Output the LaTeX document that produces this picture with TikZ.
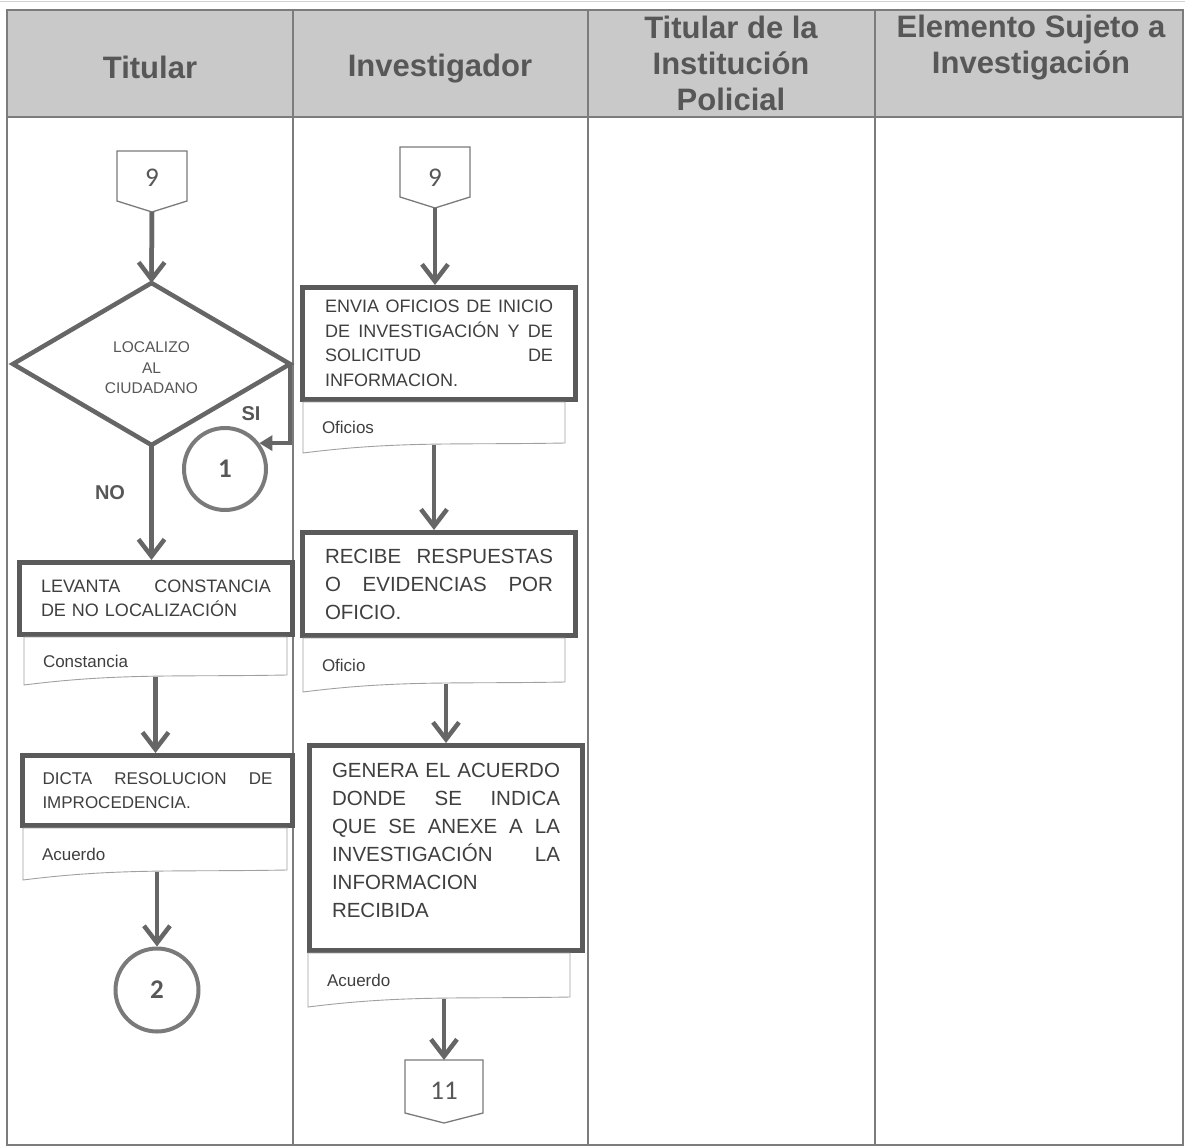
\documentclass[tikz,border=0pt]{standalone}
\usepackage{fontspec}
\setmainfont{Liberation Sans}
\newfontfamily\numfont{Carlito}
\usetikzlibrary{arrows.meta,calc}

\definecolor{lanegray}{HTML}{7C7C7C}
\definecolor{headfill}{HTML}{C9C9C9}
\definecolor{headtext}{HTML}{575757}
\definecolor{boxline}{HTML}{5A5A5A}
\definecolor{flowline}{HTML}{666666}
\definecolor{bodytext}{HTML}{3F3F3F}
\definecolor{docline}{HTML}{A0A0A0}
\definecolor{ringline}{HTML}{7A7A7A}

\newcommand\fsz[2]{\fontsize{#1}{#2}\selectfont}
% a fully justified line: word spaces stretch to the full line width
\newcommand\jline[1]{\makebox[\linewidth][s]{\spaceskip=0.278em plus 1fil\relax #1}}

\begin{document}
\begin{tikzpicture}[x=1pt,y=-1pt,
  lane/.style={draw=lanegray, line width=1.3pt},
  headlabel/.style={font=\fsz{31}{36}\bfseries, text=headtext, align=center, inner sep=0pt},
  taskbox/.style={draw=boxline, line width=5pt, fill=white, inner sep=0pt,
    align=left, text=bodytext},
  docbox/.style={inner xsep=19pt, inner ysep=0pt, outer sep=0pt, align=left,
    font=\fsz{17}{20}, text=bodytext},
  docshape/.style={draw=docline, line width=0.9pt, fill=white},
  offpage/.style={minimum width=70pt, minimum height=50pt, inner sep=0pt, outer sep=0pt,
    font=\numfont\fsz{27}{30}, text=headtext},
  pentline/.style={draw=ringline, line width=1.3pt, fill=white},
  onpage/.style={circle, draw=ringline, line width=4pt, minimum size=82pt, inner sep=0pt,
    font=\numfont\bfseries\fsz{27}{30}, text=headtext},
  flow/.style={draw=flowline, line width=4.5pt, shorten >=3pt,
    postaction={draw=flowline, shorten >=0pt, -{Straight Barb[length=17pt,width=26pt]}}},
  siflow/.style={draw=flowline, line width=4pt, -{Triangle[length=13pt,width=15pt]}},
  branch/.style={font=\fsz{20}{22}\bfseries, text=headtext, inner sep=0pt},
  decision/.style={minimum width=277pt, minimum height=162pt, inner sep=0pt, outer sep=0pt,
    align=center, font=\fsz{15.5}{20.5}, text=headtext},
  decline/.style={draw=flowline, line width=4.5pt, fill=white, line join=miter}
]
\useasboundingbox (0,0) rectangle (1185,1147);

% thin edge line along the top of the sheet
\draw[gray!35, line width=1pt] (0,1.5) -- (1185,1.5);

% swimlane table
\fill[headfill] (7,10) rectangle (1183,117);
\draw[lane] (7,10) rectangle (1183,1145);
\draw[lane] (7,117) -- (1183,117);
\foreach \x in {293,588,875} \draw[lane] (\x,10) -- (\x,1145);

\node[headlabel] (h1) at (150,67) {Titular};
\node[headlabel] (h2) at (440,69) {Investigador};
\node[headlabel] (h3) at (731,63) {Titular de la\\Institución\\Policial};
\node[headlabel] (h4) at (1031,48) {Elemento Sujeto a\\Investigación};

% ---------- Titular lane ----------
\node[offpage] (c9a) at (152,176) {};
\coordinate (c9a tip) at (152,212);
\draw[pentline] (c9a.north west) -- (c9a.north east) -- (c9a.south east) -- (c9a tip) -- (c9a.south west) -- cycle;
\node[offpage, yshift=-2pt] at (c9a) {9};

\node[decision] (dec) at (151.5,364) {};
\draw[decline] (dec.north) -- (dec.east) -- (dec.south) -- (dec.west) -- cycle;
\node[decision, yshift=-4pt] at (dec) {LOCALIZO\\AL\\CIUDADANO};

\node[onpage] (c1) at (225,469) {1};

\node[taskbox, minimum width=273pt, minimum height=72pt, text width=230pt,
  font=\fsz{18}{24.5}] (boxA) at (156,598.5)
  {\jline{LEVANTA CONSTANCIA}\\DE NO LOCALIZACIÓN};

\node[docbox, text width=225pt, minimum height=48pt] (docA) at (155.5,661) {};
\draw[docshape] (docA.north west) -- (docA.north east) -- ($(docA.south east)+(0,-10)$)
  .. controls +(-110,2) and +(95,-12) .. (docA.south west) -- cycle;
\node[docbox, text width=225pt, minimum height=48pt] at (docA) {Constancia};

\node[taskbox, minimum width=270pt, minimum height=70pt, text width=230pt,
  font=\fsz{17}{24}] (boxB) at (157.5,790.5)
  {\jline{DICTA RESOLUCION DE}\\IMPROCEDENCIA.};

\node[docbox, text width=226pt, minimum height=52pt] (docB) at (155,854) {};
\draw[docshape] (docB.north west) -- (docB.north east) -- ($(docB.south east)+(0,-10)$)
  .. controls +(-110,2) and +(95,-12) .. (docB.south west) -- cycle;
\node[docbox, text width=226pt, minimum height=52pt] at (docB) {Acuerdo};

\node[onpage, minimum size=83pt] (c2) at (157,990) {2};

\node[branch] (si) at (251,414) {SI};
\node[branch] (no) at (110,493) {NO};

% flow in the Titular lane
\draw[flow] (c9a tip) -- (dec.north);
\draw[siflow] (dec.east) |- (c1.37);
\draw[flow] (dec.south) -- (dec.south |- boxA.north);
\draw[flow] ($(docA.south)+(0,-8)$) -- (docA.south |- boxB.north);
\draw[flow] ($(docB.south -| c2.north)+(0,-8)$) -- (c2.north);

% ---------- Investigador lane ----------
\node[offpage] (c9b) at (435,172) {};
\coordinate (c9b tip) at (435,208);
\draw[pentline] (c9b.north west) -- (c9b.north east) -- (c9b.south east) -- (c9b tip) -- (c9b.south west) -- cycle;
\node[offpage, yshift=-6pt] at (c9b) {9};

\node[taskbox, minimum width=273pt, minimum height=112pt, text width=228pt,
  font=\fsz{18}{24.5}] (boxC) at (439,343.5)
  {\jline{ENVIA OFICIOS DE INICIO}\\\jline{DE INVESTIGACIÓN Y DE}\\\jline{SOLICITUD DE}\\INFORMACION.};

\node[docbox, text width=224pt, minimum height=51pt] (docC) at (434,427.5) {};
\draw[docshape] (docC.north west) -- (docC.north east) -- ($(docC.south east)+(0,-10)$)
  .. controls +(-110,2) and +(95,-12) .. (docC.south west) -- cycle;
\node[docbox, text width=224pt, minimum height=51pt] at (docC) {Oficios};

\node[taskbox, minimum width=273pt, minimum height=103pt, text width=228pt,
  font=\fsz{20.5}{28}] (boxD) at (439,584)
  {\jline{RECIBE RESPUESTAS}\\\jline{O EVIDENCIAS POR}\\OFICIO.};

\node[docbox, text width=224pt, minimum height=54pt] (docD) at (434,665) {};
\draw[docshape] (docD.north west) -- (docD.north east) -- ($(docD.south east)+(0,-10)$)
  .. controls +(-110,2) and +(95,-12) .. (docD.south west) -- cycle;
\node[docbox, text width=224pt, minimum height=54pt] at (docD) {Oficio};

\node[taskbox, minimum width=273pt, minimum height=205pt, text width=228pt,
  font=\fsz{20.5}{28}] (boxE) at (446,848)
  {\jline{GENERA EL ACUERDO}\\\jline{DONDE SE INDICA}\\\jline{QUE SE ANEXE A LA}\\\jline{INVESTIGACIÓN LA}\\INFORMACION\\RECIBIDA\\[-12pt]\mbox{}};

\node[docbox, text width=224pt, minimum height=54pt] (docE) at (439,980) {};
\draw[docshape] (docE.north west) -- (docE.north east) -- ($(docE.south east)+(0,-10)$)
  .. controls +(-110,2) and +(95,-12) .. (docE.south west) -- cycle;
\node[docbox, text width=224pt, minimum height=54pt] at (docE) {Acuerdo};

\node[offpage, minimum width=78pt, minimum height=53pt] (c11) at (444,1086.5) {};
\coordinate (c11 tip) at (444,1123);
\draw[pentline] (c11.north west) -- (c11.north east) -- (c11.south east) -- (c11 tip) -- (c11.south west) -- cycle;
\node[offpage, minimum width=78pt, minimum height=53pt, yshift=-4pt] at (c11) {11};

% flow in the Investigador lane
\draw[flow] (c9b tip) -- (c9b tip |- boxC.north);
\draw[flow] ($(docC.south)+(0,-8)$) -- (docC.south |- boxD.north);
\draw[flow] ($(docD.south -| boxE.north)+(0,-8)$) -- (boxE.north);
\draw[flow] ($(docE.south -| c11.north)+(0,-8)$) -- (c11.north);
\end{tikzpicture}
\end{document}
